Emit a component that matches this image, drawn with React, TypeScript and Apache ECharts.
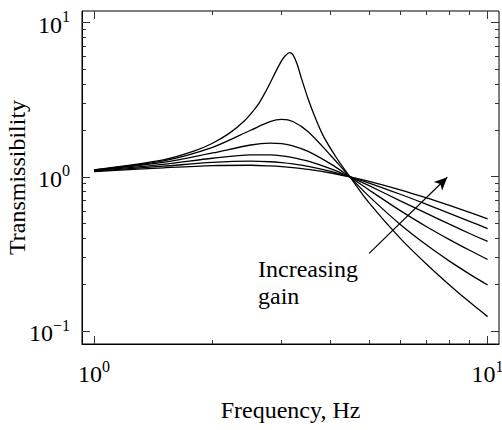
import React, { useEffect, useRef } from "react";
import * as echarts from "echarts";

// Frequencies (Hz) sampled for the broad curves
const freqs = [1, 1.5, 2, 2.5, 2.8, 3, 3.2, 3.5, 4, 4.47, 5, 6, 7, 8, 9, 10];
// Transmissibility curves, from lowest peak (highest gain) to second-highest peak
const curveA = [1.082, 1.144, 1.183, 1.189, 1.177, 1.164, 1.147, 1.117, 1.059, 1.0, 0.935, 0.824, 0.73, 0.652, 0.588, 0.534];
const curveB = [1.089, 1.172, 1.24, 1.264, 1.253, 1.236, 1.213, 1.169, 1.084, 1.0, 0.912, 0.771, 0.663, 0.58, 0.515, 0.462];
const curveC = [1.097, 1.205, 1.32, 1.389, 1.388, 1.367, 1.333, 1.264, 1.127, 1.0, 0.876, 0.699, 0.579, 0.493, 0.429, 0.381];
const curveD = [1.103, 1.24, 1.428, 1.609, 1.655, 1.64, 1.589, 1.462, 1.209, 1.0, 0.822, 0.604, 0.475, 0.392, 0.334, 0.291];
const curveE = [1.108, 1.27, 1.554, 2.005, 2.279, 2.357, 2.286, 1.963, 1.371, 1.0, 0.747, 0.491, 0.361, 0.284, 0.234, 0.199];

// Sharply peaked curve (lowest gain), sampled more densely
const freqsPeak = [1, 1.5, 1.8, 2, 2.2, 2.4, 2.6, 2.7, 2.8, 2.9, 3.0, 3.07, 3.14, 3.2, 3.28, 3.37, 3.5, 3.64, 3.82, 4.13, 4.47, 5, 6, 7, 8, 9, 10];
const curvePeak = [1.111, 1.288, 1.472, 1.652, 1.906, 2.284, 2.9, 3.4, 4.05, 4.85, 5.7, 6.15, 6.4, 6.2, 5.4, 4.3, 3.2, 2.45, 1.85, 1.33, 1.0, 0.678, 0.399, 0.271, 0.199, 0.154, 0.124];

// Axis ranges and ticks
const xRange = [0.932, 10.69];
const yRange = [0.0824, 11.9];
const xMajor = [1, 10];
const xMinor = [2, 3, 4, 5, 6, 7, 8, 9];
const yMajor = [0.1, 1, 10];
const yMinor = [0.2, 0.3, 0.4, 0.5, 0.6, 0.7, 0.8, 0.9, 2, 3, 4, 5, 6, 7, 8, 9];

// Arrow annotation (data coordinates: tail, head)
const arrowTail = [5.0, 0.319];
const arrowHead = [7.9, 0.994];

const xTitle = "Frequency, Hz";
const yTitle = "Transmissibility";
const noteLines = ["Increasing", "gain"];

const FONT = "'Liberation Serif', 'DejaVu Serif', serif";

function supLabel(v: number) {
  const e = Math.round(Math.log10(v));
  const s = e < 0 ? "\u2212" + Math.abs(e) : String(e);
  return "{b|10}{s|" + s + "}";
}

const richLabel = {
  b: { fontSize: 24, fontFamily: FONT, color: "#000", lineHeight: 28, verticalAlign: "bottom" },
  s: { fontSize: 16, fontFamily: FONT, color: "#000", lineHeight: 14, verticalAlign: "top" },
};

export default function App() {
  const ref = useRef<HTMLDivElement>(null);
  useEffect(() => {
    document.body.style.margin = "0";
    if (!ref.current) return;
    const chart = echarts.init(ref.current, null, { renderer: "svg" });

    const lineSeries = (xs: number[], ys: number[], extra: any = {}) => ({
      type: "line",
      data: xs.map((x, i) => [x, ys[i]]),
      showSymbol: false,
      smooth: 0.3,
      lineStyle: { color: "#000", width: 1.3 },
      z: 3,
      silent: true,
      ...extra,
    });

    chart.setOption({
      animation: false,
      grid: {
        left: 82,
        right: 3,
        top: 11,
        bottom: 86,
        outerBoundsMode: "none",
        show: true,
        borderColor: "#000",
        borderWidth: 1,
        backgroundColor: "transparent",
      },
      xAxis: {
        type: "log",
        logBase: 10,
        min: xRange[0],
        max: xRange[1],
        axisLine: { show: true, lineStyle: { color: "#000", width: 1 } },
        axisTick: { show: true, inside: true, length: 8, customValues: xMajor, lineStyle: { color: "#333", width: 1 } },
        splitLine: { show: false },
        minorTick: { show: false },
        axisLabel: { customValues: xMajor, formatter: (v: number) => supLabel(v), rich: richLabel, margin: 14 },
        name: xTitle,
        nameLocation: "middle",
        nameGap: 54,
        nameMoveOverlap: false,
        nameTextStyle: { fontSize: 24, fontFamily: FONT, color: "#000" },
      },
      yAxis: {
        type: "log",
        logBase: 10,
        min: yRange[0],
        max: yRange[1],
        axisLine: { show: true, lineStyle: { color: "#000", width: 1 } },
        axisTick: { show: true, inside: true, length: 8, customValues: yMajor, lineStyle: { color: "#333", width: 1 } },
        splitLine: { show: false },
        minorTick: { show: false },
        axisLabel: { customValues: yMajor, formatter: (v: number) => supLabel(v), rich: richLabel, margin: 12 },
        name: yTitle,
        nameLocation: "middle",
        nameGap: 53,
        nameMoveOverlap: false,
        nameTextStyle: { fontSize: 24, fontFamily: FONT, color: "#000" },
      },
      series: [
        lineSeries(freqs, curveA, {
          markLine: {
            silent: true,
            symbol: ["none", "arrow"],
            symbolSize: [9, 13],
            label: { show: false },
            lineStyle: { color: "#000", width: 1.2, type: "solid" },
            data: [[{ coord: arrowTail }, { coord: arrowHead }]],
          },
        }),
        lineSeries(freqs, curveB),
        lineSeries(freqs, curveC),
        lineSeries(freqs, curveD),
        lineSeries(freqs, curveE),
        lineSeries(freqsPeak, curvePeak),
      ],
    });

    // Minor ticks and mirrored top/right ticks, positioned through the axes' own scales
    const elements: any[] = [
      { type: "text", left: 258, top: 257, style: { text: noteLines[0], font: "24px " + FONT, fill: "#000" } },
      { type: "text", left: 258, top: 284, style: { text: noteLines[1], font: "24px " + FONT, fill: "#000" } },
    ];
    try {
      const toPx = (x: number, y: number) => chart.convertToPixel({ seriesIndex: 0 }, [x, y]) as number[];
      const lt = toPx(xRange[0], yRange[1]);
      const rb = toPx(xRange[1], yRange[0]);
      const left = Math.round(lt[0]);
      const top = Math.round(lt[1]);
      const right = Math.round(rb[0]);
      const bottom = Math.round(rb[1]);
      const addX = (v: number, len: number, both: boolean) => {
        const x = Math.floor(toPx(v, 1)[0]);
        if (both) elements.push({ type: "rect", shape: { x, y: bottom - len, width: 1, height: len }, style: { fill: "#333" } });
        elements.push({ type: "rect", shape: { x, y: top, width: 1, height: len }, style: { fill: "#333" } });
      };
      const addY = (v: number, len: number, both: boolean) => {
        const y = Math.floor(toPx(1, v)[1]);
        if (both) elements.push({ type: "rect", shape: { x: left, y, width: len, height: 1 }, style: { fill: "#333" } });
        elements.push({ type: "rect", shape: { x: right - len, y, width: len, height: 1 }, style: { fill: "#333" } });
      };
      xMajor.forEach((v) => addX(v, 8, false));
      xMinor.forEach((v) => addX(v, 4, true));
      yMajor.forEach((v) => addY(v, 8, false));
      yMinor.forEach((v) => addY(v, 4, true));
    } catch (e) {
      // ticks are optional decoration; keep the chart if conversion fails
    }
    chart.setOption({ graphic: elements });

    return () => chart.dispose();
  }, []);
  return <div ref={ref} style={{ width: 502, height: 430 }} />;
}
